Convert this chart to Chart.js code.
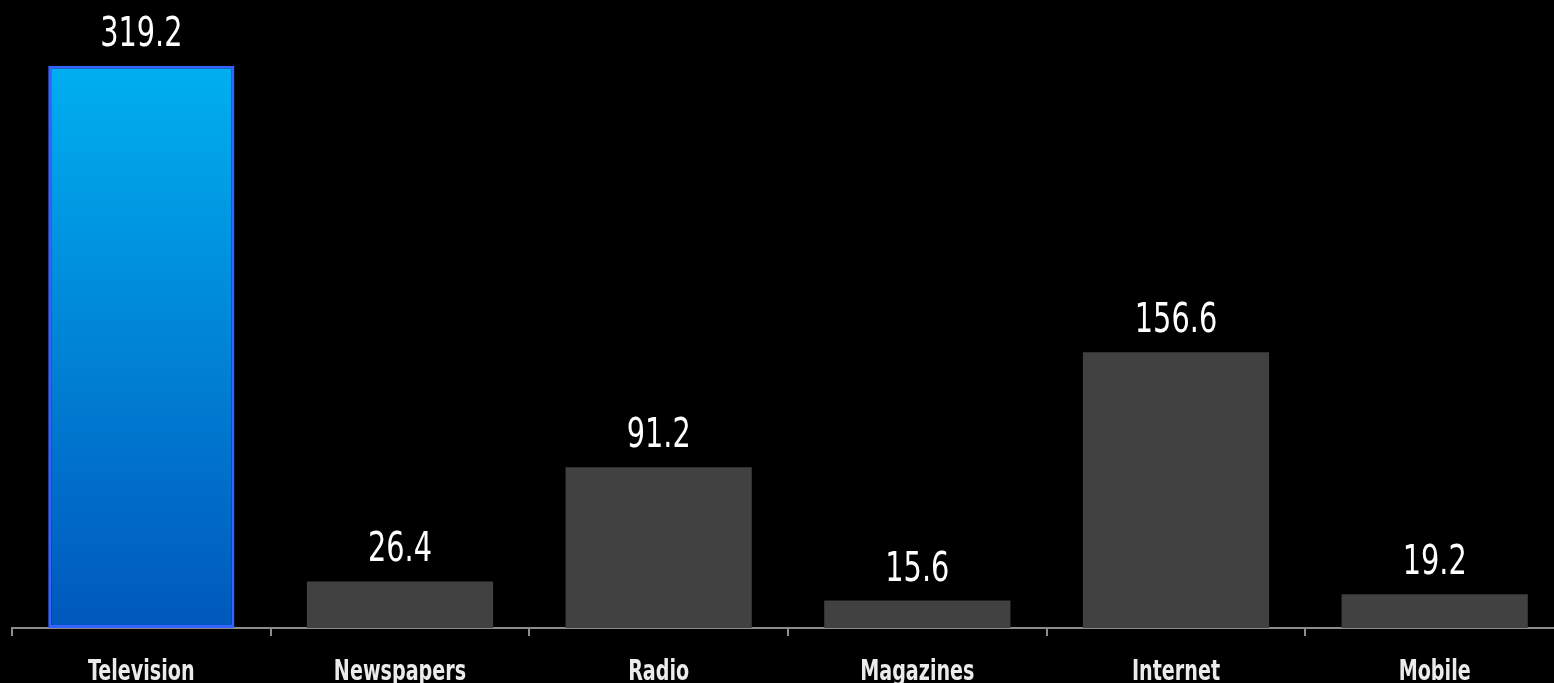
<!DOCTYPE html>
<html>
<head>
<meta charset="utf-8">
<script src="https://cdn.jsdelivr.net/npm/chart.js@4.4.1/dist/chart.umd.min.js"></script>
<style>
    html, body { margin: 0; padding: 0; background: #000; overflow: hidden; }
    #wrap { width: 1564px; height: 683px; }
</style>
</head>
<body>
<div id="wrap"><canvas id="chart" width="1564" height="683"></canvas></div>
<script>
    var categories = ['Television', 'Newspapers', 'Radio', 'Magazines', 'Internet', 'Mobile'];
    var values = [319.2, 26.4, 91.2, 15.6, 156.6, 19.2];
    var yMax = 356.5;

    var FONT = '"DejaVu Sans Condensed", "Liberation Sans", sans-serif';

    // blue gradient for the first bar, flat grey for the rest
    function barColor(ctx) {
        if (ctx.dataIndex !== 0) return '#414141';
        var area = ctx.chart.chartArea;
        if (!area) return '#0090e0';
        var g = ctx.chart.ctx.createLinearGradient(0, area.top + 60, 0, area.bottom);
        g.addColorStop(0, '#00b0f0');
        g.addColorStop(1, '#0058bc');
        return g;
    }

    // draw text squeezed horizontally (the original uses a narrow face)
    function narrowText(ctx, text, x, y, sx) {
        ctx.save();
        ctx.translate(x, y);
        ctx.scale(sx, 1);
        ctx.fillText(text, 0, 0);
        ctx.restore();
    }

    var valueLabels = {
        id: 'valueLabels',
        afterDatasetsDraw: function (chart) {
            var ctx = chart.ctx;
            var meta = chart.getDatasetMeta(0);
            ctx.save();
            ctx.font = '40px ' + FONT;
            ctx.fillStyle = '#ffffff';
            ctx.textAlign = 'center';
            ctx.textBaseline = 'alphabetic';
            meta.data.forEach(function (bar, i) {
                narrowText(ctx, values[i].toFixed(1), bar.x, bar.y - 20, 0.8);
            });
            ctx.restore();
        }
    };

    var categoryLabels = {
        id: 'categoryLabels',
        afterDraw: function (chart) {
            var ctx = chart.ctx;
            var xs = chart.scales.x;
            ctx.save();
            ctx.font = 'bold 28px ' + FONT;
            ctx.fillStyle = '#ebebeb';
            ctx.textAlign = 'center';
            ctx.textBaseline = 'alphabetic';
            categories.forEach(function (c, i) {
                narrowText(ctx, c, xs.getPixelForValue(i), xs.top + 52, 0.76);
            });
            ctx.restore();
        }
    };

    new Chart(document.getElementById('chart').getContext('2d'), {
        type: 'bar',
        data: {
            labels: categories,
            datasets: [{
                data: values,
                backgroundColor: barColor,
                borderColor: function (ctx) { return ctx.dataIndex === 0 ? '#3563ff' : 'rgba(0,0,0,0)'; },
                borderWidth: function (ctx) { return ctx.dataIndex === 0 ? 3 : 0; },
                borderSkipped: false,
                barPercentage: 0.72,
                categoryPercentage: 1.0
            }]
        },
        options: {
            responsive: false,
            animation: false,
            layout: { padding: { left: 12, right: 0, top: 0, bottom: 0 } },
            plugins: {
                legend: { display: false },
                tooltip: { enabled: false }
            },
            scales: {
                x: {
                    afterFit: function (scale) { scale.height = 55; },
                    border: { display: true, color: '#8c8c8c', width: 2 },
                    grid: {
                        display: true,
                        drawOnChartArea: false,
                        drawTicks: true,
                        tickLength: 8,
                        color: '#8c8c8c',
                        lineWidth: 2,
                        offset: true
                    },
                    ticks: { display: false }
                },
                y: {
                    display: false,
                    min: 0,
                    max: yMax
                }
            }
        },
        plugins: [valueLabels, categoryLabels]
    });
</script>
</body>
</html>
